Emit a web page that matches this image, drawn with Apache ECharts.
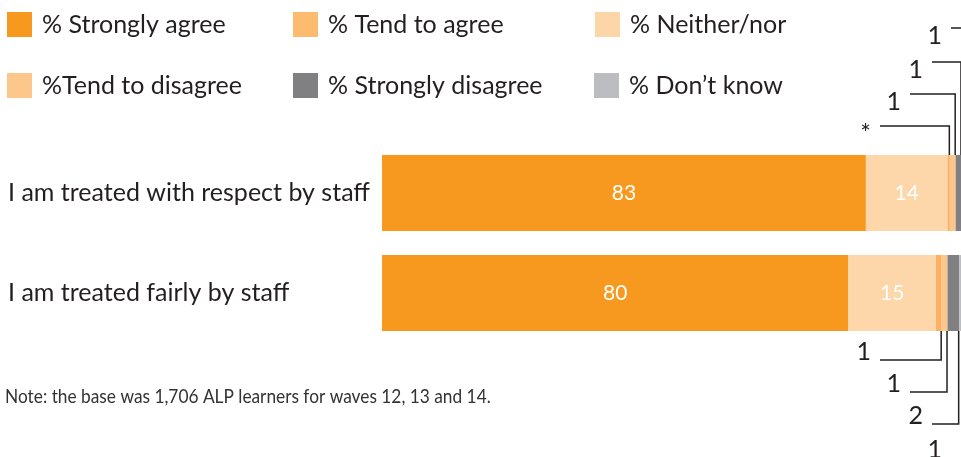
<!DOCTYPE html>
<html>
<head>
<meta charset="utf-8">
<script src="https://cdn.jsdelivr.net/npm/echarts@6/dist/echarts.min.js"></script>
<style>
  html, body { margin: 0; padding: 0; background: #ffffff; }
  #chart { width: 961px; height: 457px; }
</style>
</head>
<body>
<div id="chart"></div>
<script>
// Survey statements (top to bottom)
const statements = ['I am treated with respect by staff', 'I am treated fairly by staff'];

// Response shares, % (one value per statement). "*" = under 0.5%
const stronglyAgree    = [83, 80];
const tendToAgree      = [14, 15];
const neitherNor       = [0.4, 1];
const tendToDisagree   = [1, 1];
const stronglyDisagree = [1, 2];
const dontKnow         = [1, 1];

const seriesNames = ['% Strongly agree', '% Tend to agree', '% Neither/nor',
                     '%Tend to disagree', '% Strongly disagree', '% Don\u2019t know'];
const seriesValues = [stronglyAgree, tendToAgree, neitherNor, tendToDisagree, stronglyDisagree, dontKnow];

const note = 'Note: the base was 1,706 ALP learners for waves 12, 13 and 14.';

// Styling
const FONT = 'Lato';
const TEXT = '#231F20';
const barColors    = ['#F7991F', '#FDD6A9', '#FBB264', '#FDC78B', '#808083', '#BCBDC0'];
const legendColors = ['#F7991F', '#FDBB6F', '#FDD6A8', '#FDC68A', '#808083', '#BCBDC0'];
const legendSpots  = [[7, 12], [293, 12], [595, 12], [7, 73], [293, 73], [594, 73]];
const BAR_W = 76;
// callout leader geometry per stacking level: distance of the elbow from bar edge,
// and how far left of the axis end the horizontal run starts
const calloutRise  = [29, 61, 93, 127];
const calloutReach = [85, 55, 33, 14];

const fmt = v => (v < 0.5 ? '*' : String(v));

// Small segments get outside callouts: [segment end, statement index, level, side, label]
const callouts = [];
statements.forEach((s, ci) => {
  let cum = stronglyAgree[ci] + tendToAgree[ci];
  const side = ci === 0 ? -1 : 1;
  for (let k = 2; k < seriesValues.length; k++) {
    cum += seriesValues[k][ci];
    callouts.push([cum, ci, k - 2, side, fmt(seriesValues[k][ci])]);
  }
});

const chart = echarts.init(document.getElementById('chart'));

const barSeries = seriesNames.map((name, i) => ({
  name: name,
  type: 'bar',
  stack: 'all',
  barWidth: BAR_W,
  data: seriesValues[i],
  itemStyle: { color: barColors[i] },
  label: {
    show: i < 2,
    position: 'inside',
    color: '#ffffff',
    fontFamily: FONT,
    fontSize: 21,
    formatter: p => fmt(p.value)
  },
  emphasis: { disabled: true },
  animation: false
}));

const calloutSeries = {
  type: 'custom',
  data: callouts,
  silent: true,
  animation: false,
  clip: false,
  encode: { x: 0, y: 1 },
  renderItem: function (params, api) {
    const xEnd = api.value(0);
    const ci = api.value(1);
    const level = api.value(2);
    const side = api.value(3);
    const label = callouts[params.dataIndex][4];
    const p = api.coord([xEnd, ci]);
    const xv = p[0] - 0.5;
    const edgeY = p[1] + side * BAR_W / 2;
    const lineY = edgeY + side * calloutRise[level];
    const x0 = api.coord([100, ci])[0] - calloutReach[level];
    return {
      type: 'group',
      children: [
        {
          type: 'polyline',
          shape: { points: [[x0, lineY], [xv, lineY], [xv, edgeY]] },
          style: { stroke: TEXT, lineWidth: 1.5, fill: null }
        },
        {
          type: 'text',
          style: {
            x: x0 - 9,
            y: lineY - side * 8,
            text: label,
            align: 'right',
            verticalAlign: 'middle',
            fontFamily: FONT,
            fontSize: 25,
            fill: TEXT
          }
        }
      ]
    };
  }
};

chart.setOption({
  backgroundColor: '#ffffff',
  animation: false,
  graphic: [{
    type: 'text',
    x: 5,
    y: 397,
    scaleX: 0.865,
    silent: true,
    style: {
      text: note,
      fontFamily: FONT,
      fontSize: 20,
      fill: '#333333',
      verticalAlign: 'middle'
    }
  }],
  legend: seriesNames.map((name, i) => ({
    data: [{ name: name, itemStyle: { color: legendColors[i] } }],
    left: legendSpots[i][0],
    top: legendSpots[i][1],
    padding: 0,
    icon: 'rect',
    itemWidth: 25,
    itemHeight: 25,
    selectedMode: false,
    textStyle: { fontFamily: FONT, fontSize: 25, color: TEXT, padding: [0, 0, 0, 5] }
  })),
  grid: {
    left: 382, top: 143, right: -4, height: 200,
    containLabel: false, outerBoundsMode: 'none'
  },
  xAxis: { type: 'value', min: 0, max: 100, show: false },
  yAxis: {
    type: 'category',
    inverse: true,
    data: statements,
    axisLine: { show: false },
    axisTick: { show: false },
    axisLabel: { align: 'left', margin: 374, fontFamily: FONT, fontSize: 25, color: TEXT }
  },
  series: barSeries.concat([calloutSeries])
});
</script>
</body>
</html>
